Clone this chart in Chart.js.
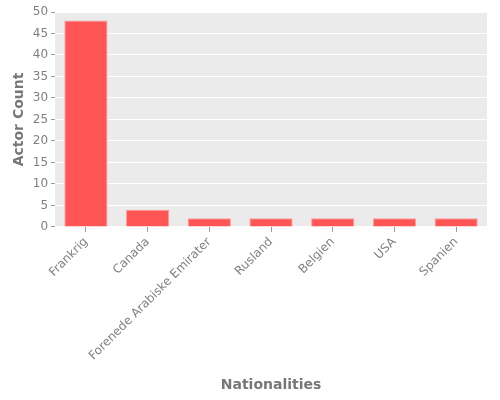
<!DOCTYPE html>
<html><head><meta charset="utf-8">
<script src="https://cdn.jsdelivr.net/npm/chart.js@4/dist/chart.umd.min.js"></script>
<style>html,body{margin:0;padding:0;background:#fff}#w{width:500px;height:400px}</style>
</head><body><div id="w"><canvas id="c"></canvas></div>
<script>
const categories = ["Frankrig","Canada","Forenede Arabiske Emirater","Rusland","Belgien","USA","Spanien"];
const actorCounts = [48,4,2,2,2,2,2];
const yTicks = [0,5,10,15,20,25,30,35,40,45,50];

const bgPlugin = {
  id:'bg',
  beforeDraw(chart){
    const {ctx, chartArea:a} = chart;
    ctx.save(); ctx.fillStyle='#ebebeb';
    ctx.fillRect(a.left,a.top,a.right-a.left,a.bottom-a.top);
    ctx.restore();
  }
};
Chart.defaults.font.family = "'DejaVu Sans', sans-serif";
new Chart(document.getElementById('c'),{
  type:'bar',
  data:{labels:categories,datasets:[{data:actorCounts,backgroundColor:'#ff5555',borderColor:'#ff9a9a',borderWidth:1,barPercentage:0.7,categoryPercentage:1}]},
  options:{
    responsive:true,maintainAspectRatio:false,animation:false,
    layout:{padding:{top:12,right:13,left:11,bottom:6}},
    plugins:{legend:{display:false},tooltip:{enabled:false}},
    scales:{
      x:{
        grid:{offset:false,drawOnChartArea:false,drawTicks:true,tickLength:5,tickColor:'#999'},
        border:{display:false},
        ticks:{color:'#808080',font:{size:12},maxRotation:45,minRotation:45,padding:3},
        title:{display:true,text:'Nationalities',color:'#777',font:{size:14,weight:'bold'},padding:{top:11,bottom:0}}
      },
      y:{
        min:0,max:50,
        afterBuildTicks(s){s.ticks=yTicks.map(v=>({value:v}));},
        grid:{color:'#ffffff',lineWidth:1,drawTicks:true,tickLength:4,tickColor:'#999'},
        border:{display:false},
        ticks:{color:'#808080',font:{size:12},padding:3},
        title:{display:true,text:'Actor Count',color:'#777',font:{size:14,weight:'bold'},padding:{top:0,bottom:2}}
      }
    }
  },
  plugins:[bgPlugin]
});
</script></body></html>
